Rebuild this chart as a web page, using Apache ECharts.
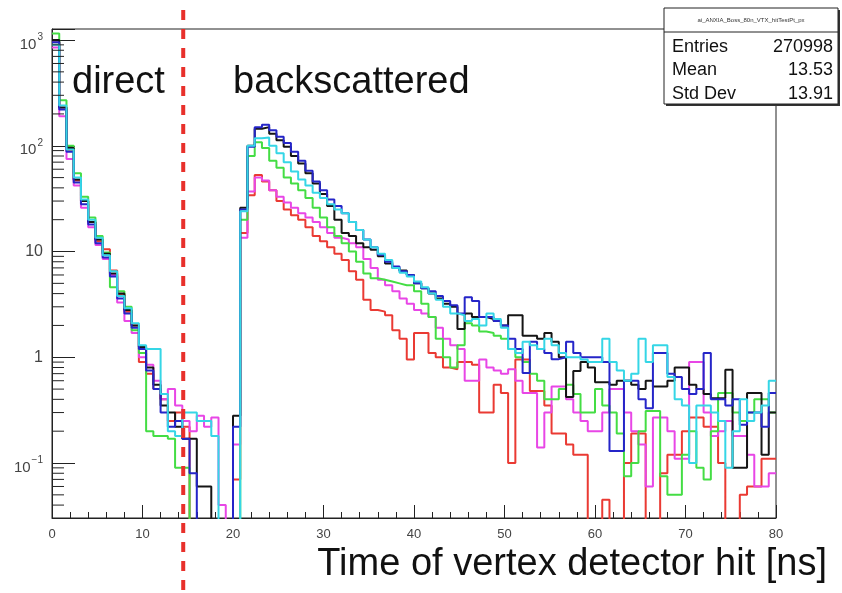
<!DOCTYPE html>
<html>
<head>
<meta charset="utf-8">
<script src="https://cdn.jsdelivr.net/npm/echarts@6/dist/echarts.min.js"></script>
<style>
  html, body { margin: 0; padding: 0; background: #fff; }
  #chart { width: 842px; height: 593px; }
</style>
</head>
<body>
<div id="chart"></div>
<script>
// 100 bins of 0.8 ns from 0 to 80 ns, counts per bin for the six samples
const binWidth = 0.8;
const xMax = 80;
const cutNs = 14.5;

const black = [
  1000, 230, 95, 48, 30, 19, 13, 9.5, 6.2, 4.0,
  2.8, 2.0, 1.25, 0.8, 0.55, 0.35, 0.3, 0.22, 0.17, 0.17,
  0.06, 0.06, 0, 0, 0, 0.28, 26, 100, 145, 150,
  130, 113, 98, 80, 68, 55, 44, 35, 27, 20,
  15, 14, 12, 11, 10.4, 9, 7.7, 7.0, 6.6, 6.0,
  5.0, 4.5, 4.0, 3.6, 3.2, 3.0, 1.85, 2.6, 2.4, 2.4,
  2.3, 2.2, 2.0, 2.5, 2.5, 1.6, 1.6, 1.5, 1.7, 1.4,
  1.0, 0.42, 0.74, 0.9, 0.8, 0.58, 0.58, 0.55, 0.6, 0.6,
  0.55, 0.5, 0.6, 0.53, 0.53, 0.6, 0.8, 0.8, 0.55, 0.5,
  0.45, 0.41, 0.41, 0.76, 0.09, 0.09, 0.46, 0.46, 0.12, 0.3
];
const blue = [
  950, 220, 88, 45, 28, 18, 12, 8.8, 5.8, 3.6,
  2.6, 1.9, 1.2, 0.75, 0.5, 0.3, 0.22, 0.25, 0.17, 0.08,
  0, 0, 0, 0, 0, 0.22, 25, 98, 150, 158,
  140, 122, 106, 88, 72, 58, 46, 38, 31, 27,
  23, 19, 16, 13, 11, 9.3, 8.0, 7.2, 6.5, 6.0,
  5.0, 4.5, 4.2, 3.8, 3.4, 3.1, 2.6, 3.7, 3.4, 2.4,
  2.4, 2.2, 2.0, 1.5, 1.2, 0.71, 1.4, 1.2, 1.1, 0.96,
  1.0, 1.4, 1.1, 1.0, 1.0, 1.0, 0.9, 0.13, 0.13, 0.6,
  0.6, 0.4, 0.33, 1.1, 1.1, 0.7, 0.65, 0.5, 0.45, 0.5,
  1.1, 0.4, 0.4, 0.35, 0.4, 0.23, 0.3, 0.3, 0.22, 0.46
];
const cyan = [
  900, 240, 92, 50, 31, 20, 13.5, 9.2, 6.5, 3.8,
  2.9, 2.1, 1.3, 1.2, 1.2, 0.45, 0.2, 0.18, 0.3, 0.3,
  0.25, 0.25, 0.18, 0, 0, 0, 24, 100, 118, 120,
  100, 85, 70, 57, 48, 42, 36, 32, 28, 25,
  23, 19, 16, 13, 11, 9.5, 8.3, 7.0, 6.3, 5.8,
  5.2, 4.6, 4.0, 3.5, 3.0, 2.6, 2.5, 2.2, 2.3, 2.0,
  2.6, 2.3, 1.9, 1.2, 1.1, 1.4, 1.3, 1.2, 1.5, 1.3,
  1.1, 1.0, 1.0, 0.95, 0.9, 0.9, 1.5, 0.9, 0.75, 0.6,
  0.7, 1.5, 0.9, 1.3, 1.3, 0.65, 0.4, 0.35, 0.1, 0.35,
  0.35, 0.3, 0.25, 0.09, 0.2, 0.4, 0.25, 0.3, 0.35, 0.6
];
const green = [
  1150, 270, 100, 55, 33, 21, 14, 9.8, 4.6, 4.2,
  3.0, 1.8, 1.1, 0.2, 0.18, 0.18, 0.17, 0.09, 0.09, 0,
  0, 0, 0, 0, 0, 0, 20, 80, 108, 95,
  72, 62, 50, 44, 38, 32, 26, 21, 17, 14,
  12, 10, 8, 6.2, 5.6, 5.4, 5.2, 5.0, 4.8, 4.8,
  4.2, 3.2, 2.4, 1.5, 1.0, 0.8, 1.3, 2.1, 2.0, 1.75,
  1.7, 1.6, 1.5, 1.2, 1.0, 0.9, 0.7, 0.6, 0.4, 0.4,
  0.5, 0.55, 0.45, 0.3, 0.3, 0.5, 0.35, 0.3, 0.19, 0.075,
  0.1, 0.2, 0.31, 0.31, 0.075, 0.05, 0.05, 0.12, 0.2, 0.09,
  0.07, 0.2, 0.46, 0.46, 0.3, 0.25, 0.3, 0.4, 0.4, 0.3
];
const magenta = [
  850, 190, 75, 42, 26, 17, 11.5, 8.5, 6, 3.3,
  2.2, 1.7, 1.0, 0.85, 0.6, 0.4, 0.5, 0.35, 0.25, 0.2,
  0.28, 0.22, 0.27, 0.04, 0, 0.15, 13.5, 37, 50, 47,
  38, 33, 29, 26, 23, 21, 19, 17, 15, 13.5,
  13, 12, 11, 8.5, 7, 5.4, 4.8, 4.2, 3.6, 3.2,
  2.8, 2.6, 2.4, 1.9, 1.5, 1.3, 1.2, 0.6, 0.6, 0.95,
  0.8, 0.75, 0.7, 0.77, 0.6, 0.46, 0.46, 0.14, 0.3, 0.53,
  0.53, 0.4, 0.3, 0.25, 0.2, 0.2, 0.3, 0.5, 0.5, 0.3,
  0.2, 0.15, 0.06, 0.27, 0.27, 0.2, 0.11, 0.11, 0.9, 0.9,
  0.3, 0.18, 0.2, 0.25, 0.18, 0.18, 0.12, 0.06, 0.06, 0.08
];
const red = [
  950, 230, 90, 47, 30, 19, 12.5, 10.5, 6.6, 3.9,
  2.7, 2.0, 0.9, 0.7, 0.5, 0.4, 0.25, 0.3, 0.22, 0,
  0, 0, 0, 0, 0, 0.07, 15, 34, 53, 46,
  38, 30, 25, 22, 20, 17, 14, 12.5, 11, 9.5,
  8.3, 6.5, 5.4, 3.5, 2.8, 2.7, 2.5, 1.8, 1.5, 0.95,
  1.7, 1.7, 1.1, 1.0, 0.8, 0.77, 0.9, 0.9, 0.85, 0.3,
  0.3, 0.55, 0.46, 0.1, 0.95, 0.95, 0.48, 0.48, 0.35, 0.19,
  0.19, 0.15, 0.12, 0.12, 0, 0, 0.045, 0, 0, 0.1,
  0.19, 0.19, 0, 0, 0.08, 0.12, 0.12, 0.2, 0.27, 0.27,
  0.22, 0.22, 0.1, 0, 0, 0.05, 0.06, 0.06, 0.11, 0.11
];

const statNames = ['Entries', 'Mean', 'Std Dev'];
const statValues = ['270998', '13.53', '13.91'];
const histTitle = 'ai_ANXIA_Boss_80n_VTX_hitTestPt_px';

const yMin = 0.0302;
const yMax = 1271;
const font = '"Liberation Sans", Arial, Helvetica, sans-serif';

const chart = echarts.init(document.getElementById('chart'));

// bin left edges + closing point at the upper edge, zero bins pushed below the frame
const toHist = (vals) => {
  const pts = vals.map((v, i) => [+(i * binWidth).toFixed(2), v > 0 ? v : 1e-4]);
  pts.push([xMax, pts[pts.length - 1][1]]);
  return pts;
};

const samples = [
  { name: 'red', color: '#ea3a33', data: red },
  { name: 'magenta', color: '#e846e6', data: magenta },
  { name: 'green', color: '#44dd44', data: green },
  { name: 'black', color: '#151515', data: black },
  { name: 'blue', color: '#2525c8', data: blue },
  { name: 'cyan', color: '#35d6e6', data: cyan },
];

// log minor ticks 2..9 per decade
const yMinor = [];
for (let e = -2; e <= 3; e++) {
  for (let m = 2; m <= 9; m++) {
    const v = m * Math.pow(10, e);
    if (v > yMin && v < yMax) yMinor.push([0, v]);
  }
}

const option = {
  animation: false,
  backgroundColor: '#fff',
  grid: {
    left: 52, right: 66, top: 29, bottom: 75,
    show: true, borderColor: '#222', borderWidth: 1
  },
  xAxis: {
    type: 'value',
    min: 0, max: xMax, interval: 10,
    axisLine: { lineStyle: { color: '#222', width: 1 } },
    axisTick: { inside: true, length: 13, lineStyle: { color: '#222' } },
    minorTick: { show: true, splitNumber: 5, length: 6, lineStyle: { color: '#222' } },
    splitLine: { show: false },
    axisLabel: { fontFamily: font, fontSize: 13, color: '#444', margin: 10 }
  },
  yAxis: {
    type: 'log',
    logBase: 10,
    min: yMin, max: yMax,
    axisLine: { lineStyle: { color: '#222', width: 1 } },
    axisTick: { inside: true, length: 23, lineStyle: { color: '#222' } },
    splitLine: { show: false },
    axisLabel: {
      margin: 9,
      fontFamily: font,
      color: '#444',
      formatter: (v) => {
        const lg = Math.log10(v);
        const e = Math.round(lg);
        if (Math.abs(lg - e) > 1e-6) return '';
        if (e === 0) return '{n|1}';
        if (e === 1) return '{n|10}';
        return '{b|10}{s|' + (e < 0 ? '\u2212' + (-e) : e) + '}';
      },
      rich: {
        n: { fontFamily: font, fontSize: 16, color: '#444' },
        b: { fontFamily: font, fontSize: 15, color: '#444', padding: [9, 0, 0, 0] },
        s: { fontFamily: font, fontSize: 10, color: '#444', padding: [0, 0, 5, 1] }
      }
    }
  },
  series: samples.map((s) => ({
    name: s.name,
    type: 'line',
    step: 'end',
    data: toHist(s.data),
    symbol: 'none',
    clip: true,
    lineStyle: { color: s.color, width: 2 },
    itemStyle: { color: s.color },
    z: 3
  })).concat([{
    type: 'custom',
    silent: true,
    clip: false,
    data: yMinor,
    z: 4,
    renderItem: (params, api) => {
      const p = api.coord([0, api.value(1)]);
      return {
        type: 'line',
        shape: { x1: p[0], y1: p[1], x2: p[0] + 12, y2: p[1] },
        style: { stroke: '#222', lineWidth: 1 }
      };
    }
  }])
};

chart.setOption(option);

const xCut = chart.convertToPixel({ xAxisIndex: 0 }, cutNs);

// stats box rows
const statsTexts = [];
statNames.forEach((name, i) => {
  const y = 47 + i * 23.5;
  statsTexts.push({
    type: 'text', x: 672, y: y, z: 21,
    style: { text: name, font: '18px ' + font, fill: '#111', verticalAlign: 'middle' }
  });
  statsTexts.push({
    type: 'text', x: 833, y: y, z: 21,
    style: { text: statValues[i], font: '18px ' + font, fill: '#111', align: 'right', verticalAlign: 'middle' }
  });
});

chart.setOption({
  graphic: [
    {
      type: 'line', z: 30,
      shape: { x1: xCut, y1: 10, x2: xCut, y2: 593 },
      style: { stroke: '#e8302b', lineWidth: 4, lineDash: [10, 9] }
    },
    {
      type: 'text', x: 72, y: 83, z: 10,
      style: { text: 'direct', font: '38px ' + font, fill: '#111', verticalAlign: 'middle' }
    },
    {
      type: 'text', x: 233, y: 83, z: 10,
      style: { text: 'backscattered', font: '38px ' + font, fill: '#111', verticalAlign: 'middle' }
    },
    {
      type: 'text', x: 827, y: 565, z: 10,
      style: { text: 'Time of vertex detector hit [ns]', font: '38px ' + font, fill: '#111', align: 'right', verticalAlign: 'middle' }
    },
    {
      type: 'rect', z: 19,
      shape: { x: 666, y: 10, width: 174, height: 96 },
      style: { fill: '#333' }
    },
    {
      type: 'rect', z: 20,
      shape: { x: 664, y: 8, width: 174, height: 96 },
      style: { fill: '#fff', stroke: '#222', lineWidth: 1 }
    },
    {
      type: 'line', z: 21,
      shape: { x1: 664, y1: 32, x2: 838, y2: 32 },
      style: { stroke: '#222', lineWidth: 1 }
    },
    {
      type: 'text', x: 751, y: 20, z: 21,
      style: { text: histTitle, font: '6px ' + font, fill: '#333', align: 'center', verticalAlign: 'middle' }
    }
  ].concat(statsTexts)
});
</script>
</body>
</html>
